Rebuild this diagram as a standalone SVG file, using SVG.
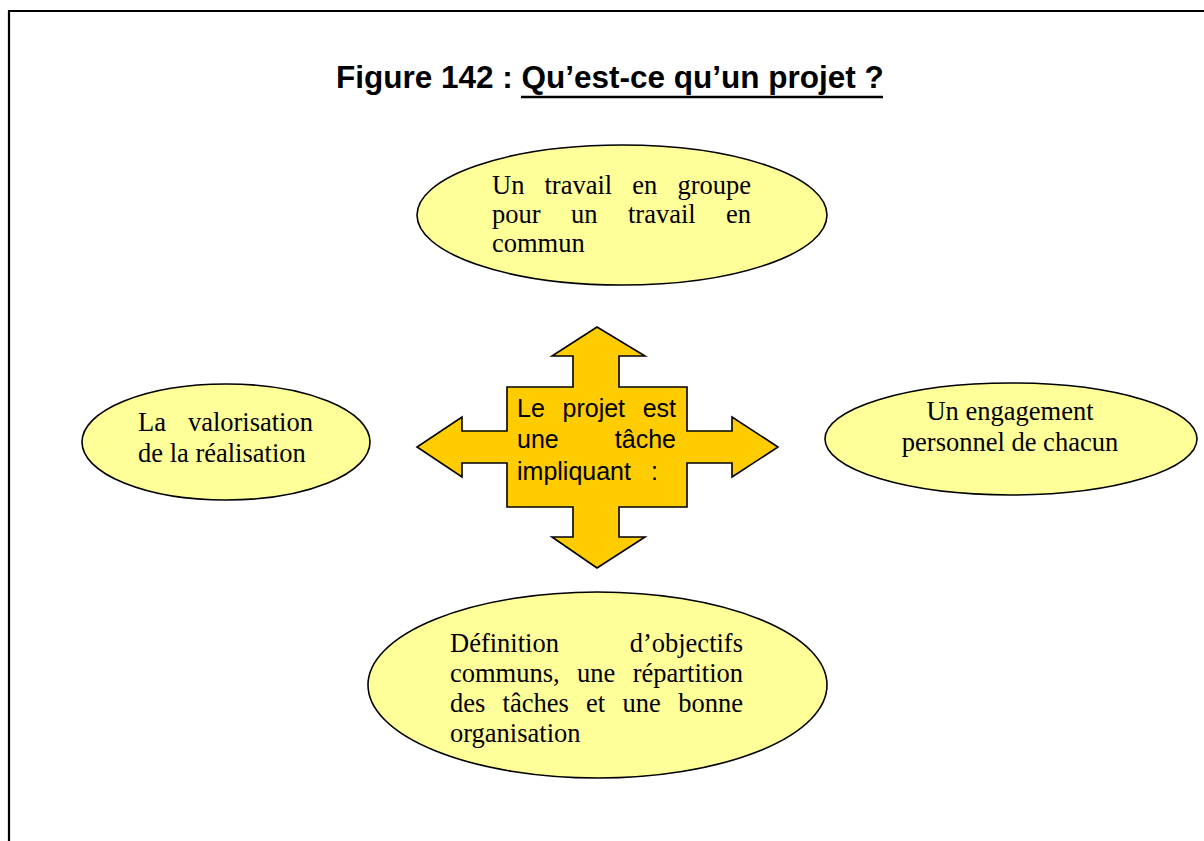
<svg xmlns="http://www.w3.org/2000/svg" width="1204" height="841" viewBox="0 0 1204 841">
<style>
.bubble{fill:#FFFF99;stroke:#000;stroke-width:1.6}
.serif{font-family:"Liberation Serif","Times New Roman",serif;font-size:26.5px;fill:#000}
.sans{font-family:"Liberation Sans",Arial,sans-serif;font-size:25px;fill:#000}
.title{font-family:"Liberation Sans",Arial,sans-serif;font-size:31.5px;font-weight:bold;fill:#000}
</style>
<rect width="1204" height="841" fill="#fff"/>
<g id="frame" stroke="#000" stroke-width="2.2" fill="none">
<line x1="9" y1="11" x2="1204" y2="11"/>
<line x1="9" y1="10" x2="9" y2="841"/>
</g>
<g id="title">
<text class="title" x="336" y="88">Figure 142 : Qu’est-ce qu’un projet ?</text>
<line x1="521" y1="97" x2="883" y2="97" stroke="#000" stroke-width="2.5"/>
</g>
<g id="connectors">
<polygon id="cross" points="597,327 645,356 619,356 619,387 687,387 687,431 732,431 732,417 778,447 732,477 732,463 687,463 687,507 619,507 619,537 645,537 597,568 552,537 573,537 573,507 507,507 507,463 462,463 462,477 417,447 462,417 462,431 507,431 507,387 573,387 573,356 552,356" fill="#FFCC00" stroke="#000" stroke-width="1.6" stroke-linejoin="miter"/>
</g>
<g id="center">
<text class="sans" y="417"><tspan x="517">Le</tspan><tspan x="562.5">projet</tspan></text>
<text class="sans" x="676" y="417" text-anchor="end">est</text>
<text class="sans" x="517" y="448">une</text>
<text class="sans" x="676" y="448" text-anchor="end">tâche</text>
<text class="sans" y="480"><tspan x="517">impliquant</tspan><tspan x="651">:</tspan></text>
</g>
<g id="top">
<ellipse class="bubble" cx="622" cy="215" rx="205" ry="70"/>
<text class="serif" y="194"><tspan x="492">Un</tspan><tspan x="544.5">travail</tspan><tspan x="632.3">en</tspan></text>
<text class="serif" x="751" y="194" text-anchor="end">groupe</text>
<text class="serif" y="223"><tspan x="492">pour</tspan><tspan x="571">un</tspan><tspan x="628">travail</tspan></text>
<text class="serif" x="751" y="223" text-anchor="end">en</text>
<text class="serif" x="492" y="252">commun</text>
</g>
<g id="left">
<ellipse class="bubble" cx="226" cy="442" rx="144" ry="58"/>
<text class="serif" x="138" y="431">La</text>
<text class="serif" x="313" y="431" text-anchor="end">valorisation</text>
<text class="serif" x="138" y="462">de la réalisation</text>
</g>
<g id="right">
<ellipse class="bubble" cx="1011" cy="439" rx="186" ry="56"/>
<text class="serif" x="1010" y="420" text-anchor="middle">Un engagement</text>
<text class="serif" x="1010" y="451" text-anchor="middle">personnel de chacun</text>
</g>
<g id="bottom">
<ellipse class="bubble" cx="597.5" cy="685" rx="229.5" ry="93"/>
<text class="serif" x="450" y="652">Définition</text>
<text class="serif" x="743" y="652" text-anchor="end">d’objectifs</text>
<text class="serif" y="682"><tspan x="450">communs,</tspan><tspan x="577">une</tspan></text>
<text class="serif" x="743" y="682" text-anchor="end">répartition</text>
<text class="serif" y="712"><tspan x="450">des</tspan><tspan x="502.6">tâches</tspan><tspan x="586.1">et</tspan><tspan x="622.5">une</tspan></text>
<text class="serif" x="743" y="712" text-anchor="end">bonne</text>
<text class="serif" x="450" y="742">organisation</text>
</g>
</svg>
